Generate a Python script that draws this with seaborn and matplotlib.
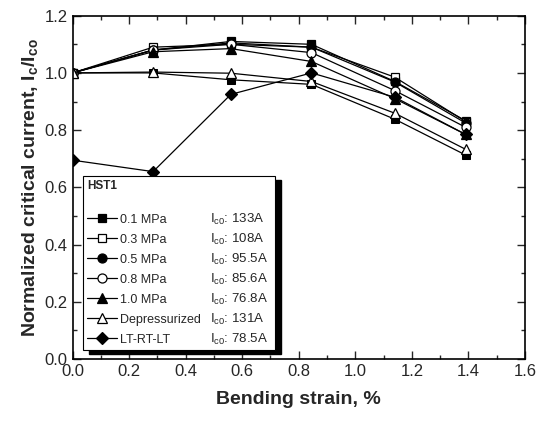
import numpy as np
import pandas as pd
import matplotlib
matplotlib.use("Agg")
import matplotlib.pyplot as plt
from matplotlib.patches import Rectangle
from matplotlib.ticker import MultipleLocator
import seaborn as sns

# ---- data ----
strain = [0.0, 0.285, 0.56, 0.845, 1.14, 1.39]
s_01 = [1.0, 1.08, 1.11, 1.10, 0.97, 0.833]
s_03 = [1.0, 1.09, 1.10, 1.09, 0.985, 0.83]
s_05 = [1.0, 1.08, 1.105, 1.09, 0.968, 0.825]
s_08 = [1.0, 1.08, 1.10, 1.071, 0.938, 0.81]
s_10 = [1.0, 1.074, 1.085, 1.04, 0.91, 0.785]
s_dep = [1.0, 1.003, 0.999, 0.97, 0.859, 0.733]
s_lt = [0.695, 0.655, 0.925, 1.0, 0.915, 0.785]
s_extra = [1.0, 1.0, 0.976, 0.96, 0.838, 0.713]

labels = ["0.1 MPa", "0.3 MPa", "0.5 MPa", "0.8 MPa", "1.0 MPa",
          "Depressurized", "LT-RT-LT"]
ic0_labels = ["133A", "108A", "95.5A", "85.6A", "76.8A", "131A", "78.5A"]
legend_title = "HST1"

sns.set_style("ticks")
plt.rcParams['font.family'] = ['Liberation Sans', 'DejaVu Sans']
plt.rcParams['mathtext.fontset'] = 'custom'
plt.rcParams['mathtext.rm'] = 'Liberation Sans'
plt.rcParams['mathtext.it'] = 'Liberation Sans'
plt.rcParams['mathtext.bf'] = 'Liberation Sans:bold'

fig = plt.figure(figsize=(5.38, 4.26), dpi=100)
ax = fig.add_axes([72.5 / 538, (426 - 359) / 426, (525 - 72.5) / 538, (359 - 15.7) / 426])

series = [s_01, s_03, s_05, s_08, s_10, s_dep, s_lt]
markers = ["s", "s", "o", "o", "^", "^", "D"]
filled = [True, False, True, False, True, False, True]
sizes = [6, 6, 6.5, 6.5, 6.5, 7, 6]

# unlabeled extra filled-square curve visible in the reference
sns.lineplot(x=strain, y=s_extra, ax=ax, color="black", lw=0.9, marker="s",
             markersize=6, markerfacecolor="black", markeredgecolor="black",
             legend=False)

handles = []
for ys, lab, m, f, ms in zip(series, labels, markers, filled, sizes):
    sns.lineplot(x=strain, y=ys, ax=ax, color="black", lw=0.9, marker=m,
                 markersize=ms, markerfacecolor="black" if f else "white",
                 markeredgecolor="black", markeredgewidth=0.9, label=lab,
                 legend=False)
    handles.append(ax.lines[-1])

ax.set_xlim(0, 1.6)
ax.set_ylim(0, 1.2)
ax.xaxis.set_major_locator(MultipleLocator(0.2))
ax.xaxis.set_minor_locator(MultipleLocator(0.1))
ax.yaxis.set_major_locator(MultipleLocator(0.2))
ax.yaxis.set_minor_locator(MultipleLocator(0.1))
ax.tick_params(which="both", direction="in", top=True, right=True,
               labelsize=12, width=1.0)
ax.tick_params(which="major", length=6)
ax.tick_params(which="minor", length=3)
for sp in ax.spines.values():
    sp.set_linewidth(1.2)
    sp.set_color("black")

ax.set_xlabel("Bending strain, %", fontsize=14, fontweight="bold", labelpad=9)
ax.set_ylabel(r"Normalized critical current, I$_{\mathbf{c}}$/I$_{\mathbf{co}}$",
              fontsize=14, fontweight="bold", labelpad=3)

leg = ax.legend(handles=handles, labels=labels, title=legend_title + "\n",
                loc="lower left", bbox_to_anchor=(0.023, 0.026, 0.425, 0.5),
                mode="expand", fancybox=False, framealpha=1, edgecolor="black",
                fontsize=9, title_fontproperties={"weight": "bold", "size": 8.5},
                handlelength=2.4, handletextpad=0.2, labelspacing=0.64,
                borderpad=0.35, borderaxespad=0.0, alignment="left")
leg.get_frame().set_linewidth(0.8)
leg.set_zorder(5)

fig.canvas.draw()
# black offset shadow behind the legend box
bb = leg.get_window_extent().transformed(ax.transAxes.inverted())
dx = 6 / 452.5
dy = 4 / 343.3
shadow = Rectangle((bb.x0 + dx, bb.y0 - dy), bb.width, bb.height,
                   transform=ax.transAxes, facecolor="black", edgecolor="black",
                   zorder=4.5, clip_on=False)
ax.add_patch(shadow)

# I_c0 column aligned to the legend rows
for txt, val in zip(leg.get_texts(), ic0_labels):
    tb = txt.get_window_extent().transformed(ax.transAxes.inverted())
    yc = (tb.y0 + tb.y1) / 2
    ax.text(0.304, yc, r"I$_{\mathregular{c0}}$: " + val, transform=ax.transAxes,
            fontsize=9.5, va="center", ha="left", zorder=6)

fig.savefig("out.png", dpi=100)
